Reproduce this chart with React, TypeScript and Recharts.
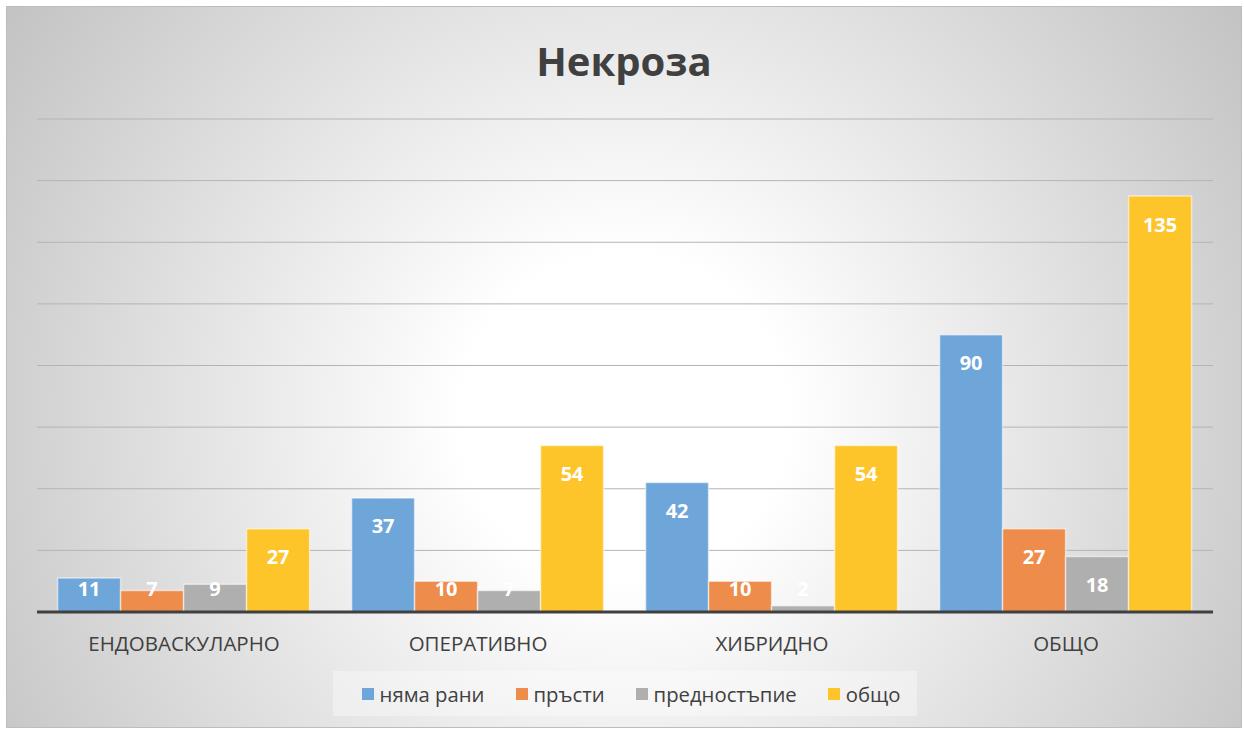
import React from 'react';
import { BarChart, Bar, XAxis, YAxis, CartesianGrid, LabelList, Legend } from 'recharts';

const categories = ['ЕНДОВАСКУЛАРНО', 'ОПЕРАТИВНО', 'ХИБРИДНО', 'ОБЩО'];
const seriesNames = ['няма рани', 'пръсти', 'предностъпие', 'общо'];
const nyamaRani = [11, 37, 42, 90];
const prasti = [7, 10, 10, 27];
const prednostapie = [9, 7, 2, 18];
const obshto = [27, 54, 54, 135];
const yTicks = [0, 20, 40, 60, 80, 100, 120, 140, 160];

const colors = ['#6FA6DA', '#EE8C4C', '#AFAFAF', '#FDC529'];
const keys = ['s0', 's1', 's2', 's3'];

const data = categories.map((c, i) => ({
  name: c,
  s0: nyamaRani[i],
  s1: prasti[i],
  s2: prednostapie[i],
  s3: obshto[i],
}));

const FONT = '"Open Sans", "DejaVu Sans", sans-serif';

const ValueLabel = (props: any) => {
  const { x, y, width, height, value } = props;
  const base = y + height;
  const cy = Math.min(y + 28, base - 24);
  return (
    <text
      x={x + width / 2}
      y={cy}
      textAnchor="middle"
      dominantBaseline="central"
      fill="#ffffff"
      fontFamily={FONT}
      fontWeight={700}
      fontSize={20}
    >
      {value}
    </text>
  );
};

const CatTick = (props: any) => {
  const { x, y, payload } = props;
  return (
    <text
      x={x}
      y={y + 23}
      textAnchor="middle"
      dominantBaseline="central"
      fill="#404040"
      fontFamily={FONT}
      fontSize={20.5}
    >
      {payload.value}
    </text>
  );
};

const LegendBox = () => (
  <div
    style={{
      width: 584,
      height: 45,
      background: 'rgba(255,255,255,0.35)',
      display: 'flex',
      alignItems: 'center',
      justifyContent: 'center',
      gap: 31,
      paddingLeft: 12,
      fontFamily: FONT,
      fontSize: 20.3,
      color: '#404040',
      boxSizing: 'border-box',
    }}
  >
    {seriesNames.map((n, i) => (
      <div key={n} style={{ display: 'flex', alignItems: 'center' }}>
        <span
          style={{
            display: 'inline-block',
            width: 12,
            height: 12,
            background: colors[i],
            marginRight: 6,
          }}
        />
        <span style={{ lineHeight: '24px' }}>{n}</span>
      </div>
    ))}
  </div>
);

export default function App() {
  return (
    <div style={{ position: 'absolute', left: 0, top: 0, width: 1244, height: 731, background: '#fff' }}>
      <div
        style={{
          position: 'absolute',
          left: 6,
          top: 6,
          width: 1236,
          height: 722,
          boxSizing: 'border-box',
          border: '1px solid #bdbdbd',
          background: 'radial-gradient(circle farthest-corner at 50% 57%, #ffffff 0%, #ffffff 22%, #c3c3c3 100%)',
        }}
      >
        <div
          style={{
            position: 'absolute',
            left: 0,
            top: 28,
            width: '100%',
            textAlign: 'center',
            fontFamily: FONT,
            fontWeight: 700,
            fontSize: 40,
            lineHeight: '52px',
            color: '#404040',
          }}
        >
          Некроза
        </div>
        <div style={{ position: 'absolute', left: -1, top: -1 }}>
          <BarChart
            width={1236}
            height={722}
            data={data}
            margin={{ top: 113, right: 29, bottom: 41, left: 31 }}
            barCategoryGap="7%"
            barGap={0}
          >
            <CartesianGrid vertical={false} stroke="#b4b4b4" strokeWidth={1} />
            <YAxis hide domain={[0, 160]} ticks={yTicks} type="number" />
            <XAxis
              dataKey="name"
              axisLine={{ stroke: '#404040', strokeWidth: 3 }}
              tickLine={false}
              tick={<CatTick />}
              interval={0}
            />
            <Legend
              content={<LegendBox />}
              wrapperStyle={{ position: 'absolute', left: 327, top: 665, width: 584, height: 45 }}
            />
            {keys.map((k, i) => (
              <Bar
                key={k}
                dataKey={k}
                name={seriesNames[i]}
                fill={colors[i]}
                stroke="rgba(255,255,255,0.55)"
                strokeWidth={1.5}
                isAnimationActive={false}
              >
                <LabelList dataKey={k} content={<ValueLabel />} />
              </Bar>
            ))}
          </BarChart>
        </div>
      </div>
    </div>
  );
}
